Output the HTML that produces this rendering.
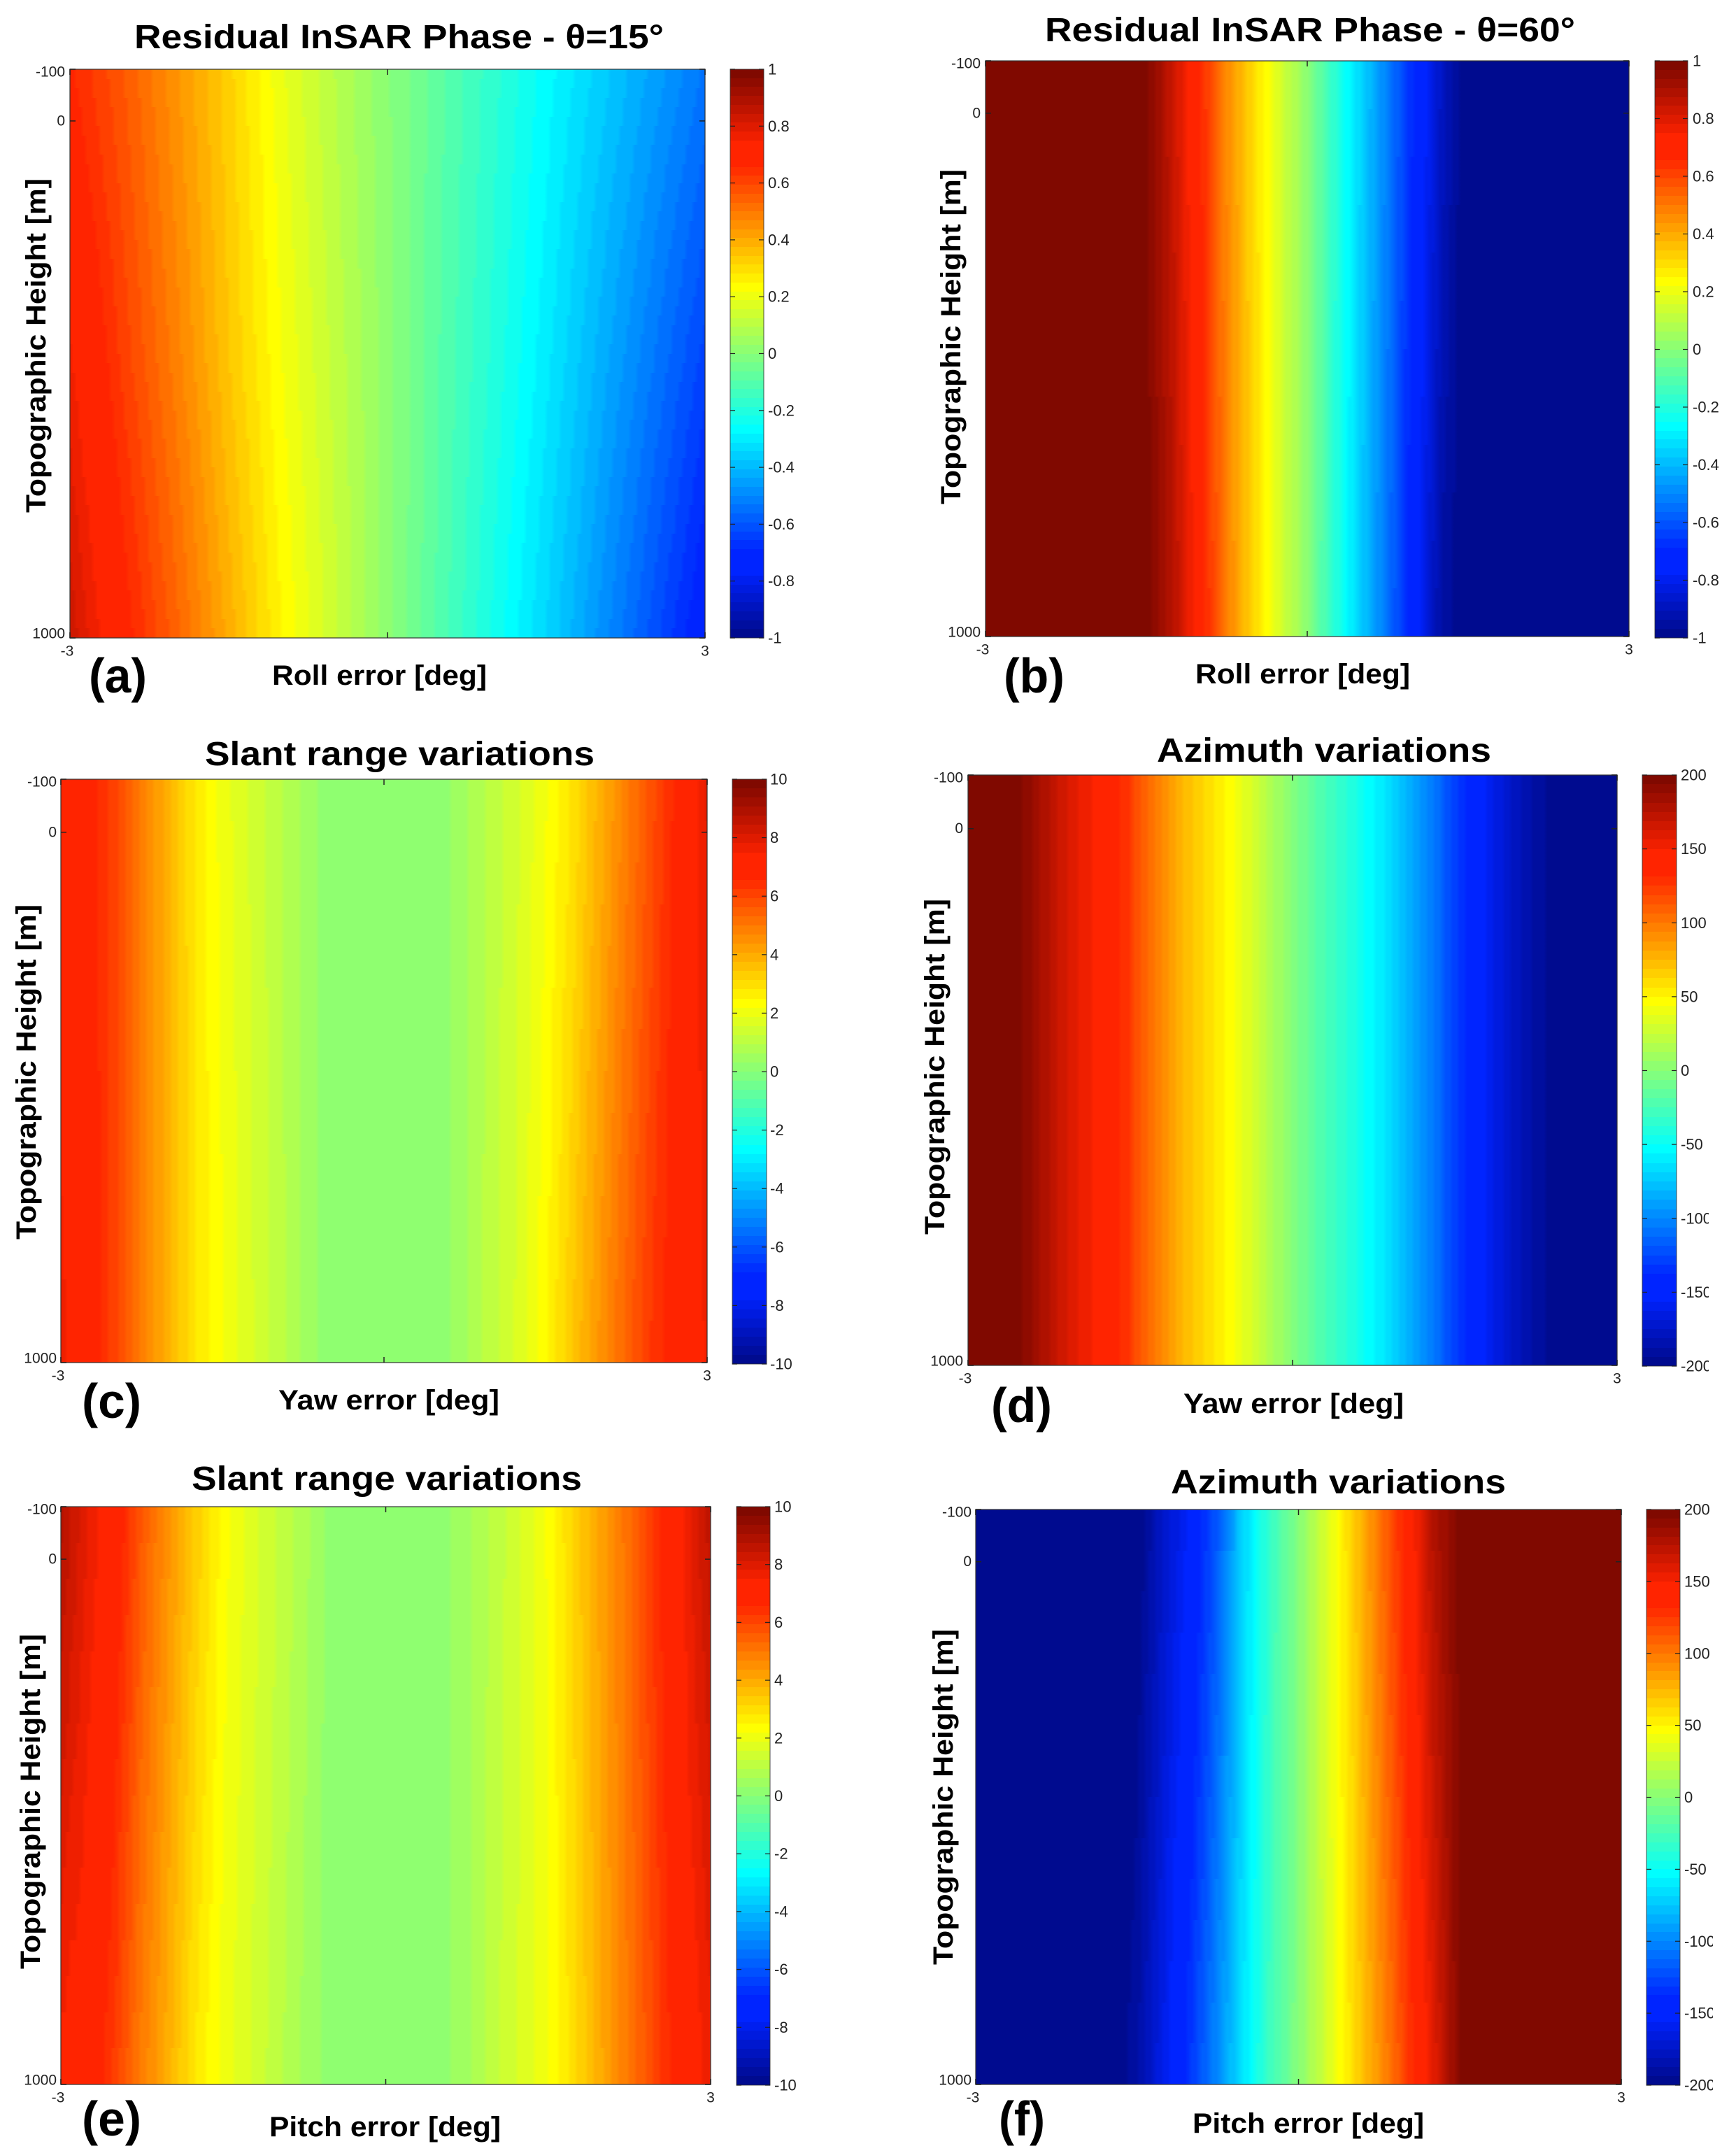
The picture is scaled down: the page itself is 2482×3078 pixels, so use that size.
<!DOCTYPE html>
<html lang="en">
<head>
<meta charset="utf-8">
<title>Residual InSAR phase and range/azimuth variations</title>
<style>
html,body{margin:0;padding:0;background:#fff;}
svg{display:block;}
text{font-family:"Liberation Sans",sans-serif;fill:#000;}
.title{font-size:48px;font-weight:700;}
.axis-label{font-size:40px;font-weight:700;}
.panel-letter{font-size:70px;font-weight:700;}
.tick{font-size:21px;fill:#222;}
.cbtick{font-size:22px;fill:#222;}
</style>
</head>
<body>
<svg id="figure" xmlns="http://www.w3.org/2000/svg" width="2482" height="3078" viewBox="0 0 2482 3078">
<defs id="defs"></defs>
<rect width="2482" height="3078" fill="#fff"/>
<g id="marks"></g>

<text class="title" x="192" y="69" textLength="757" lengthAdjust="spacingAndGlyphs">Residual InSAR Phase - θ=15°</text>
<text class="title" x="1494" y="59" textLength="758" lengthAdjust="spacingAndGlyphs">Residual InSAR Phase - θ=60°</text>
<text class="title" x="293" y="1094" textLength="557" lengthAdjust="spacingAndGlyphs">Slant range variations</text>
<text class="title" x="1654" y="1089" textLength="478" lengthAdjust="spacingAndGlyphs">Azimuth variations</text>
<text class="title" x="274" y="2130" textLength="558" lengthAdjust="spacingAndGlyphs">Slant range variations</text>
<text class="title" x="1674" y="2135" textLength="479" lengthAdjust="spacingAndGlyphs">Azimuth variations</text>

<text class="axis-label" x="389" y="979" textLength="307" lengthAdjust="spacingAndGlyphs">Roll error [deg]</text>
<text class="axis-label" x="1709" y="977" textLength="307" lengthAdjust="spacingAndGlyphs">Roll error [deg]</text>
<text class="axis-label" x="398" y="2015" textLength="316" lengthAdjust="spacingAndGlyphs">Yaw error [deg]</text>
<text class="axis-label" x="1692" y="2020" textLength="315" lengthAdjust="spacingAndGlyphs">Yaw error [deg]</text>
<text class="axis-label" x="385" y="3054" textLength="331" lengthAdjust="spacingAndGlyphs">Pitch error [deg]</text>
<text class="axis-label" x="1705" y="3049" textLength="331" lengthAdjust="spacingAndGlyphs">Pitch error [deg]</text>

<text class="axis-label" transform="translate(65 733) rotate(-90)" textLength="478" lengthAdjust="spacingAndGlyphs">Topographic Height [m]</text>
<text class="axis-label" transform="translate(1373 721) rotate(-90)" textLength="479" lengthAdjust="spacingAndGlyphs">Topographic Height [m]</text>
<text class="axis-label" transform="translate(51 1772) rotate(-90)" textLength="479" lengthAdjust="spacingAndGlyphs">Topographic Height [m]</text>
<text class="axis-label" transform="translate(1350 1765) rotate(-90)" textLength="480" lengthAdjust="spacingAndGlyphs">Topographic Height [m]</text>
<text class="axis-label" transform="translate(57 2815) rotate(-90)" textLength="479" lengthAdjust="spacingAndGlyphs">Topographic Height [m]</text>
<text class="axis-label" transform="translate(1362 2809) rotate(-90)" textLength="480" lengthAdjust="spacingAndGlyphs">Topographic Height [m]</text>

<text class="panel-letter" x="127" y="990" textLength="83" lengthAdjust="spacingAndGlyphs">(a)</text>
<text class="panel-letter" x="1435" y="990" textLength="87" lengthAdjust="spacingAndGlyphs">(b)</text>
<text class="panel-letter" x="117" y="2027" textLength="85" lengthAdjust="spacingAndGlyphs">(c)</text>
<text class="panel-letter" x="1417" y="2033" textLength="87" lengthAdjust="spacingAndGlyphs">(d)</text>
<text class="panel-letter" x="117" y="3053" textLength="85" lengthAdjust="spacingAndGlyphs">(e)</text>
<text class="panel-letter" x="1428" y="3053" textLength="66" lengthAdjust="spacingAndGlyphs">(f)</text>
</svg>

<script>
// ---- shared axes ----
const errorsCoarse = [-3,-2.5,-2,-1.5,-1,-0.5,0,0.5,1,1.5,2,2.5,3];
const errorsFine = [-3,-2.75,-2.5,-2.25,-2,-1.75,-1.5,-1.25,-1,-0.75,-0.5,-0.25,0,0.25,0.5,0.75,1,1.25,1.5,1.75,2,2.25,2.5,2.75,3];
const heightsThree = [-100,450,1000];
const heightsTwo = [-100,1000];
const yTicks = [-100,0,1000];
const yTickLabels = ["-100","0","1000"];
const xTicks = [-3,0,3];
const xTickLabels = ["-3","","3"];
const phaseTicks = [1,0.8,0.6,0.4,0.2,0,-0.2,-0.4,-0.6,-0.8,-1];
const phaseTickLabels = ["1","0.8","0.6","0.4","0.2","0","-0.2","-0.4","-0.6","-0.8","-1"];
const slantTicks = [10,8,6,4,2,0,-2,-4,-6,-8,-10];
const slantTickLabels = ["10","8","6","4","2","0","-2","-4","-6","-8","-10"];
const azimuthTicks = [200,150,100,50,0,-50,-100,-150,-200];
const azimuthTickLabels = ["200","150","100","50","0","-50","-100","-150","-200"];

// ---- panel values, one array per height row ----
const panelATop = [0.68,0.58,0.46,0.34,0.21,0.11,0.02,-0.07,-0.16,-0.25,-0.34,-0.43,-0.52];
const panelAMid = [0.77,0.63,0.50,0.36,0.235,0.13,0.03,-0.08,-0.18,-0.285,-0.40,-0.51,-0.62];
const panelABottom = [0.85,0.70,0.56,0.41,0.265,0.15,0.03,-0.09,-0.21,-0.33,-0.46,-0.59,-0.72];

const panelBTop = [1,1,1,1,1,1,1,0.85,0.68,0.48,0.32,0.17,0.02,-0.16,-0.33,-0.5,-0.68,-0.86,-1,-1,-1,-1,-1,-1,-1];
const panelBBottom = [1,1,1,1,1,1,1,0.9,0.72,0.5,0.33,0.17,0.02,-0.17,-0.35,-0.53,-0.73,-0.93,-1,-1,-1,-1,-1,-1,-1];

const panelCTop = [7.3,7.0,6.2,5.0,4.0,2.9,2.2,1.7,1.2,0.7,0.3,0.2,0.2,0.2,0.3,0.7,1.2,1.7,2.3,3.0,4.0,5.0,6.0,7.0,8.0];
const panelCBottom = [7.8,7.2,6.2,5.0,4.0,3.0,2.4,1.8,1.3,0.7,0.3,0.2,0.2,0.2,0.3,0.7,1.3,1.8,2.6,3.6,4.6,5.6,6.5,7.2,7.7];

const panelDTop = [200,200,198,178,160,147,127,100,78,60,45,22,2,-18,-35,-52,-72,-97,-125,-150,-170,-188,-197,-200,-200];
const panelDBottom = [200,200,198,178,160,147,127,100,78,60,45,22,2,-18,-35,-52,-72,-97,-125,-150,-170,-188,-197,-200,-200];

const panelETop = [9.0,8.0,7.2,5.8,4.6,3.5,2.5,1.9,1.4,0.9,0.3,0.2,0.2,0.2,0.3,0.7,1.2,1.7,2.4,3.4,4.4,5.4,6.6,7.7,8.8];
const panelEBottom = [7.5,7.2,6.3,5.0,4.0,2.9,2.2,1.7,1.2,0.7,0.3,0.2,0.2,0.2,0.3,0.7,1.3,1.8,2.3,3.2,4.2,5.2,6.2,7.2,7.8];

const panelFTop = [-200,-200,-200,-200,-200,-200,-198,-172,-150,-115,-65,-27,2,35,68,105,140,180,200,200,200,200,200,200,200];
const panelFBottom = [-200,-200,-200,-200,-200,-200,-185,-157,-128,-95,-57,-24,2,32,62,92,125,160,198,200,200,200,200,200,200];

// ---- panel layout (not data) ----
const panels = [
  {id:'a',left:100,right:1008,top:99,bottom:912,cbL:1044,cbR:1092,cbT:99,cbB:912,cbText:1098,tickRight:93,strips:60,
   errors:errorsCoarse,heights:heightsThree,rows:[panelATop,panelAMid,panelABottom],cMin:-1,cMax:1,cTicks:phaseTicks,cLabels:phaseTickLabels,clipX:0},
  {id:'b',left:1409,right:2329,top:87,bottom:910,cbL:2366,cbR:2413,cbT:87,cbB:912,cbText:2420,tickRight:1402,strips:12,
   errors:errorsFine,heights:heightsTwo,rows:[panelBTop,panelBBottom],cMin:-1,cMax:1,cTicks:phaseTicks,cLabels:phaseTickLabels,clipX:0},
  {id:'c',left:87,right:1011,top:1114,bottom:1948,cbL:1047,cbR:1096,cbT:1114,cbB:1950,cbText:1101,tickRight:81,strips:14,
   errors:errorsFine,heights:heightsTwo,rows:[panelCTop,panelCBottom],cMin:-10,cMax:10,cTicks:slantTicks,cLabels:slantTickLabels,clipX:0},
  {id:'d',left:1384,right:2312,top:1108,bottom:1952,cbL:2348,cbR:2397,cbT:1108,cbB:1953,cbText:2403,tickRight:1377,strips:4,
   errors:errorsFine,heights:heightsTwo,rows:[panelDTop,panelDBottom],cMin:-200,cMax:200,cTicks:azimuthTicks,cLabels:azimuthTickLabels,clipX:2443},
  {id:'e',left:87,right:1016,top:2154,bottom:2980,cbL:1053,cbR:1101,cbT:2154,cbB:2981,cbText:1107,tickRight:81,strips:16,
   errors:errorsFine,heights:heightsTwo,rows:[panelETop,panelEBottom],cMin:-10,cMax:10,cTicks:slantTicks,cLabels:slantTickLabels,clipX:0},
  {id:'f',left:1395,right:2318,top:2158,bottom:2980,cbL:2354,cbR:2402,cbT:2158,cbB:2981,cbText:2408,tickRight:1389,strips:14,
   errors:errorsFine,heights:heightsTwo,rows:[panelFTop,panelFBottom],cMin:-200,cMax:200,cTicks:azimuthTicks,cLabels:azimuthTickLabels,clipX:2449}
];

const NS = 'http://www.w3.org/2000/svg';
const svgRoot = document.getElementById('marks');
const defsRoot = document.getElementById('defs');

function make(tag, attrs, parent){
  const node = document.createElementNS(NS, tag);
  for (const k in attrs) node.setAttribute(k, attrs[k]);
  if (parent) parent.appendChild(node);
  return node;
}
function clamp01(x){return Math.max(0, Math.min(1, x));}
function jetColor(level){
  const t = (level + 1) / 64;
  const r = clamp01(Math.min(4*t - 1.5, -4*t + 4.5));
  const g0 = clamp01(Math.min(4*t - 0.5, -4*t + 3.5));
  const b = clamp01(Math.min(4*t + 0.5, -4*t + 2.5));
  const m = Math.max(r, b);
  const g = Math.max(g0, 0.14 * m * m);
  return 'rgb(' + Math.round(r*255) + ',' + Math.round(g*255) + ',' + Math.round(b*255) + ')';
}
function levelOf(v, cMin, cMax){
  return Math.max(0, Math.min(63, Math.round((v - cMin) / (cMax - cMin) * 64) - 1));
}
function interpolate(xs, ys, x){
  if (x <= xs[0]) return ys[0];
  for (let i = 1; i < xs.length; i++) {
    if (x <= xs[i]) {
      const f = (x - xs[i-1]) / (xs[i] - xs[i-1]);
      return ys[i-1] + f * (ys[i] - ys[i-1]);
    }
  }
  return ys[ys.length - 1];
}
function valueAt(p, error, height){
  const atRows = p.rows.map(function(row){ return interpolate(p.errors, row, error); });
  return interpolate(p.heights, atRows, height);
}

function drawPanel(p){
  const xMin = -3, xMax = 3, yMin = -100, yMax = 1000;
  const xScale = function(e){ return p.left + (e - xMin) / (xMax - xMin) * (p.right - p.left); };
  const yScale = function(h){ return p.top + (h - yMin) / (yMax - yMin) * (p.bottom - p.top); };
  const cScale = function(v){ return p.cbB - (v - p.cMin) / (p.cMax - p.cMin) * (p.cbB - p.cbT); };

  const g = make('g', {}, svgRoot);
  
  

  // heatmap strips: each strip is one height band, coloured along x from the value arrays
  const heatmap = make('g', {'shape-rendering':'crispEdges'}, g);
  
  
  const stepPx = 5;
  const stripHeight = (yMax - yMin) / p.strips;
  for (let s = 0; s < p.strips; s++) {
    const h0 = yMin + s * stripHeight;
    const hMid = h0 + stripHeight / 2;
    const gradId = 'grad-' + p.id + '-' + s;
    const grad = make('linearGradient', {id:gradId, gradientUnits:'userSpaceOnUse', x1:p.left, x2:p.right, y1:0, y2:0}, defsRoot);
    const width = p.right - p.left;
    const count = Math.round(width / stepPx);
    for (let i = 0; i <= count; i++) {
      const f = i / count;
      const err = xMin + f * (xMax - xMin);
      const lvl = levelOf(valueAt(p, err, hMid), p.cMin, p.cMax);
      make('stop', {offset:f.toFixed(4), 'stop-color':jetColor(lvl)}, grad);
    }
    const y0 = Math.round(yScale(h0));
    const y1 = Math.round(yScale(h0 + stripHeight));
    const strip = make('rect', {x:p.left, y:y0, width:width, height:y1 - y0, fill:'url(#' + gradId + ')'}, heatmap);
    
    
  }

  // plot frame
  const frame = make('rect', {x:p.left, y:p.top, width:p.right - p.left, height:p.bottom - p.top, fill:'none', stroke:'#333', 'stroke-width':1.5, 'stroke-opacity':0.8}, g);
  
  

  // x ticks
  xTicks.forEach(function(e, i){
    const x = xScale(e);
    const t1 = make('line', {x1:x, x2:x, y1:p.bottom, y2:p.bottom - 8, stroke:'#222', 'stroke-width':1.5}, g);
    
    
    const t2 = make('line', {x1:x, x2:x, y1:p.top, y2:p.top + 8, stroke:'#222', 'stroke-width':1.5}, g);
    
    
    if (xTickLabels[i]) {
      const lab = make('text', {x:x + (e < 0 ? -4 : 0), y:p.bottom + 19, 'text-anchor':'middle', 'dominant-baseline':'central', 'class':'tick'}, g);
      lab.textContent = xTickLabels[i];
      
      
    }
  });

  // y ticks
  yTicks.forEach(function(h, i){
    const y = yScale(h);
    const t1 = make('line', {x1:p.left, x2:p.left + 8, y1:y, y2:y, stroke:'#222', 'stroke-width':1.5}, g);
    
    
    const t2 = make('line', {x1:p.right, x2:p.right - 8, y1:y, y2:y, stroke:'#222', 'stroke-width':1.5}, g);
    
    
    const nudge = h === yMin ? 4 : (h === yMax ? -6 : 0);
    const lab = make('text', {x:p.tickRight, y:y + nudge, 'text-anchor':'end', 'dominant-baseline':'central', 'class':'tick'}, g);
    lab.textContent = yTickLabels[i];
    
    
  });

  // colour bar
  const bar = make('g', {'shape-rendering':'crispEdges'}, g);
  
  
  const levelSpan = (p.cMax - p.cMin) / 64;
  for (let lvl = 0; lvl < 64; lvl++) {
    const yHi = cScale(p.cMin + (lvl + 1) * levelSpan);
    const yLo = cScale(p.cMin + lvl * levelSpan);
    const swatch = make('rect', {x:p.cbL, y:Math.round(yHi), width:p.cbR - p.cbL, height:Math.round(yLo) - Math.round(yHi), fill:jetColor(lvl)}, bar);
    
    
  }
  const barFrame = make('rect', {x:p.cbL, y:p.cbT, width:p.cbR - p.cbL, height:p.cbB - p.cbT, fill:'none', stroke:'#333', 'stroke-width':1.2, 'stroke-opacity':0.7}, g);
  
  

  let clipAttr = null;
  if (p.clipX) {
    const clipId = 'clip-' + p.id;
    const clip = make('clipPath', {id:clipId}, defsRoot);
    make('rect', {x:p.cbR, y:p.cbT - 30, width:p.clipX - p.cbR, height:p.cbB - p.cbT + 60}, clip);
    clipAttr = 'url(#' + clipId + ')';
  }
  const labelGroup = make('g', clipAttr ? {'clip-path':clipAttr} : {}, g);
  
  
  p.cTicks.forEach(function(v, i){
    const y = cScale(v);
    const t1 = make('line', {x1:p.cbL, x2:p.cbL + 7, y1:y, y2:y, stroke:'#222', 'stroke-width':1.2}, g);
    
    
    const t2 = make('line', {x1:p.cbR, x2:p.cbR - 7, y1:y, y2:y, stroke:'#222', 'stroke-width':1.2}, g);
    
    
    const lab = make('text', {x:p.cbText, y:y, 'dominant-baseline':'central', 'class':'cbtick'}, labelGroup);
    lab.textContent = p.cLabels[i];
    
    
  });
}

panels.forEach(drawPanel);
</script>
</body>
</html>
